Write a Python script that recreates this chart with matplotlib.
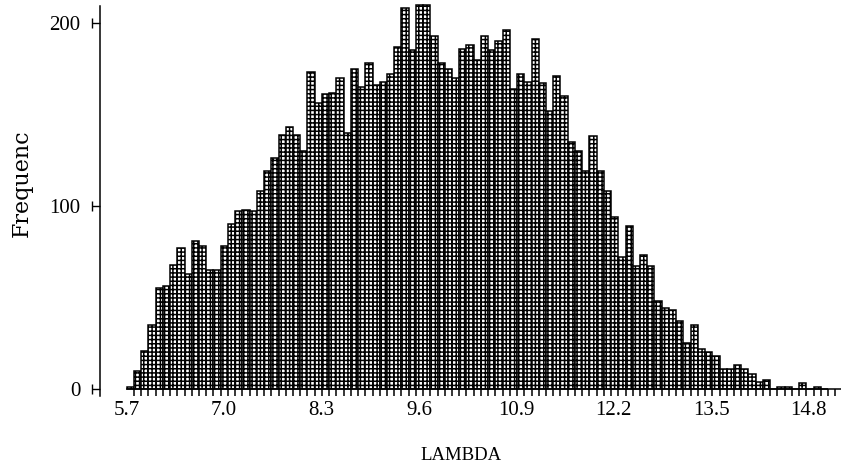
import numpy as np
import matplotlib.pyplot as plt
from matplotlib import transforms

# Frequency histogram of LAMBDA, one count per bin
bin_start = 5.7
bin_width = 0.0965
counts = [1, 10, 21, 35, 55, 56, 68, 77, 63, 81,
          78, 65, 65, 78, 90, 97, 98, 97, 108, 119,
          126, 139, 143, 139, 130, 173, 156, 161, 162, 170,
          140, 175, 165, 178, 166, 168, 172, 187, 208, 185,
          210, 210, 193, 178, 175, 170, 186, 188, 180, 193,
          185, 190, 196, 164, 172, 168, 191, 167, 152, 171,
          160, 135, 130, 119, 138, 119, 108, 94, 72, 89,
          67, 73, 67, 48, 44, 43, 37, 25, 35, 22,
          20, 18, 11, 11, 13, 11, 8, 4, 5, 0,
          1, 1, 0, 3, 0, 1, 0]
x_ticks = [5.7, 7.0, 8.3, 9.6, 10.9, 12.2, 13.5, 14.8]
y_ticks = [0, 100, 200]

edges = bin_start + bin_width * np.arange(len(counts) + 1)

plt.rcParams['font.family'] = ['Liberation Serif', 'DejaVu Serif']
plt.rcParams['hatch.linewidth'] = 1.1

fig = plt.figure(figsize=(8.41, 4.73), dpi=100)
W, H = 841, 473
ax = fig.add_axes([100 / W, (H - 396.3) / H, 741 / W, 395.3 / H])

ax.bar(edges[:-1], counts, width=np.diff(edges), align='edge',
       facecolor='white', edgecolor='black', linewidth=1.1, hatch='++++')

x_lo = bin_start - 26.7 / 74.92
x_hi = bin_start + 714.3 / 74.92
ax.set_xlim(x_lo, x_hi)
ax.set_ylim(-4, 212)

for side in ('top', 'right'):
    ax.spines[side].set_visible(False)
ax.spines['bottom'].set_position(('data', 0))
ax.spines['bottom'].set_bounds(bin_start, x_hi)
ax.spines['left'].set_bounds(-4, 209)
for side in ('bottom', 'left'):
    ax.spines[side].set_linewidth(1.1)

ax.set_xticks(x_ticks)
ax.set_xticklabels([f'{t:.1f}' for t in x_ticks])
ax.set_xticks(bin_start + bin_width * np.arange(0, int((x_hi - bin_start) / bin_width) + 1),
              minor=True)
ax.tick_params(axis='x', which='major', length=0, pad=9, labelsize=15)
ax.tick_params(axis='x', which='minor', length=5, width=1.1, direction='out')

ax.set_yticks(y_ticks)
ax.tick_params(axis='y', which='major', length=6, width=1.0, pad=8, labelsize=15)

# little end caps on the y ticks
cap = transforms.offset_copy(
    transforms.blended_transform_factory(ax.transAxes, ax.transData),
    fig=fig, x=-8, y=0, units='dots')
ax.plot([0] * len(y_ticks), y_ticks, ls='none', marker='|', ms=7, mew=1.0,
        color='black', transform=cap, clip_on=False)

fig.text(22 / W, 1 - 183 / H, 'Frequenc', rotation=90, ha='center', va='center',
         fontsize=16, family='DejaVu Serif')
fig.text(461 / W, 1 - 455 / H, 'LAMBDA', ha='center', va='center', fontsize=13.5)

fig.savefig('out.png', dpi=100)
